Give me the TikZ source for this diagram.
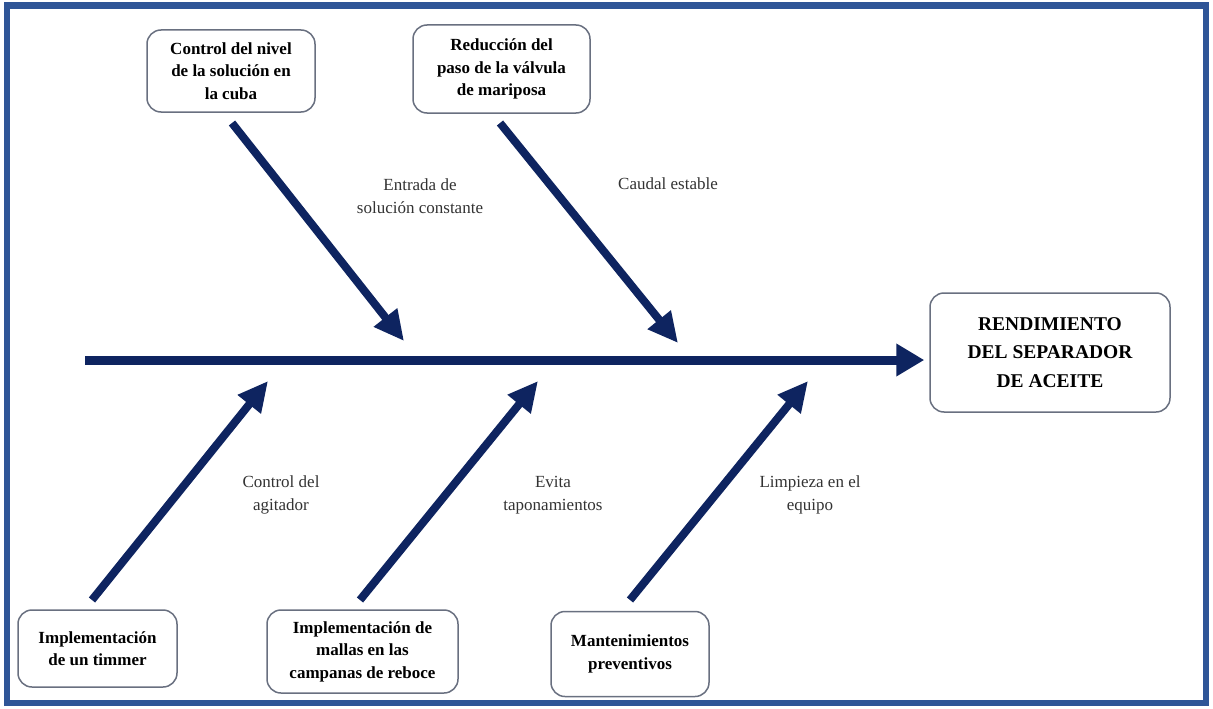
\documentclass[tikz,border=0pt]{standalone}
\usepackage{fontspec}
\setmainfont{Liberation Serif}
\usetikzlibrary{arrows.meta}
\definecolor{frameblue}{RGB}{47,85,151}
\definecolor{navy}{RGB}{14,36,96}
\definecolor{boxline}{RGB}{105,112,128}
\tikzset{
  causebox/.style={draw=boxline, line width=1.5pt, rounded corners=14pt, fill=white,
    align=center, font=\fontsize{17}{22.5}\selectfont\bfseries, inner sep=4pt},
  effbox/.style={causebox, font=\fontsize{19.5}{28.5}\selectfont\bfseries},
  lbl/.style={align=center, font=\fontsize{17}{23}\selectfont, text=black!80},
  bone/.style={draw=navy, line width=8pt, -{Triangle[length=30pt,width=28pt]}},
  spine/.style={draw=navy, line width=9pt, -{Triangle[length=28pt,width=31pt]}}
}
\begin{document}
\begin{tikzpicture}[x=1pt,y=-1pt]
\useasboundingbox (0,0) rectangle (1213,709);
\fill[white] (0,0) rectangle (1213,709);
\draw[frameblue, line width=6.5pt] (7,5.5) rectangle (1206,703);

% boxes
\node[causebox, minimum width=168pt, minimum height=82pt] (c1) at (231,71)
  {Control del nivel\\de la solución en\\la cuba};
\node[causebox, minimum width=177pt, minimum height=88pt] (c2) at (501.5,69)
  {Reducción del\\paso de la válvula\\de mariposa};
\node[effbox, minimum width=240pt, minimum height=119pt] (eff) at (1050,352.5)
  {RENDIMIENTO\\DEL SEPARADOR\\DE ACEITE};
\node[causebox, minimum width=159pt, minimum height=77pt] (c3) at (97.5,648.5)
  {Implementación\\de un timmer};
\node[causebox, minimum width=191pt, minimum height=83pt] (c4) at (362.5,651.5)
  {Implementación de\\mallas en las\\campanas de reboce};
\node[causebox, minimum width=158pt, minimum height=85pt] (c5) at (630,654)
  {Mantenimientos\\preventivos};

% labels
\node[lbl] (l1) at (420,196) {Entrada de\\solución constante};
\node[lbl] (l2) at (668,184) {Caudal estable};
\node[lbl] (l3) at (281,495) {Control del\\agitador};
\node[lbl] (l4) at (553,495) {Evita\\taponamientos};
\node[lbl] (l5) at (810,495) {Limpieza en el\\equipo};

% coordinates
\coordinate (s0) at (85,360);
\coordinate (u1s) at (232,123);
\coordinate (u1t) at (404,341);
\coordinate (u2s) at (500,123);
\coordinate (u2t) at (678,343);
\coordinate (d1s) at (92,600);
\coordinate (d1t) at (268,381);
\coordinate (d2s) at (360,600);
\coordinate (d2t) at (538,381);
\coordinate (d3s) at (630,600);
\coordinate (d3t) at (808,381);

% spine and bones
\draw[spine, shorten >=5pt] (s0) -- (eff.west |- s0);
\draw[bone] (u1s) -- (u1t);
\draw[bone] (u2s) -- (u2t);
\draw[bone] (d1s) -- (d1t);
\draw[bone] (d2s) -- (d2t);
\draw[bone] (d3s) -- (d3t);
\end{tikzpicture}
\end{document}
